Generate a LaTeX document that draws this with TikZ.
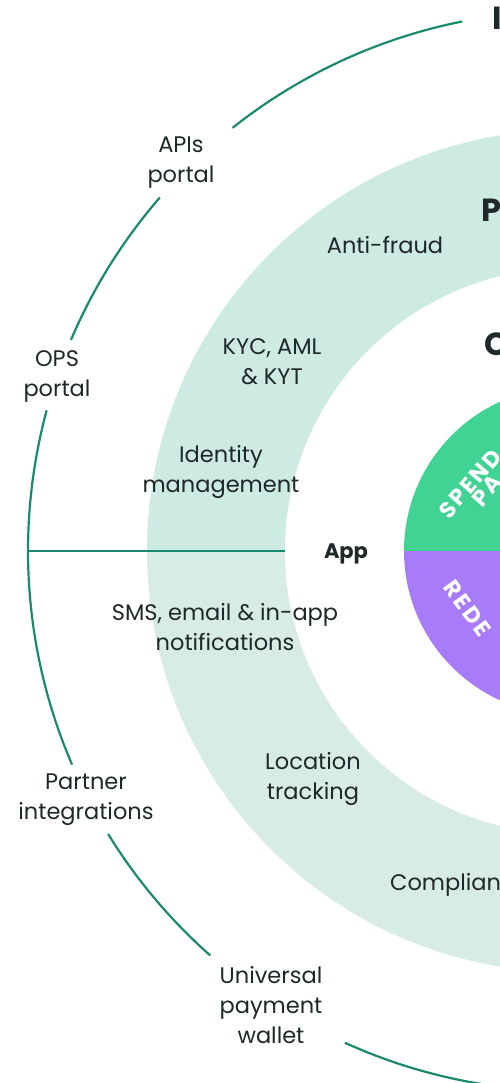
\documentclass[tikz,border=0pt]{standalone}
\usepackage{fontspec}
\setmainfont{Poppins}
\definecolor{ring}{RGB}{26,138,110}
\definecolor{bandtop}{RGB}{205,234,227}
\definecolor{bandbot}{RGB}{216,236,230}
\definecolor{spend}{RGB}{64,211,148}
\definecolor{redeem}{RGB}{168,123,248}
\definecolor{txt}{RGB}{30,40,40}
\begin{document}
\begin{tikzpicture}[x=1pt,y=1pt,
  ringline/.style={draw=ring, line width=2.2pt},
  lbl/.style={align=center, font=\fontsize{22.5}{30}\selectfont, text=txt, inner sep=0pt},
  boldlbl/.style={font=\fontsize{21}{30}\selectfont\bfseries, text=txt, inner sep=0pt},
  hdr/.style={font=\fontsize{32}{36}\selectfont\bfseries, text=txt, inner sep=0pt, anchor=base west},
  wedge/.style={font=\fontsize{22.5}{26}\selectfont\bfseries\addfontfeatures{LetterSpace=10}, text=white, inner sep=0pt, anchor=west}]
\useasboundingbox (0,0) rectangle (500,-1083);
\clip (0,0) rectangle (500,-1083);
\coordinate (C) at (568,-551);
% teal band
\fill[bandtop] (C) ++(0:421pt) arc[start angle=0, end angle=180, radius=421pt] -- cycle;
\fill[bandbot] (C) ++(180:421pt) arc[start angle=180, end angle=360, radius=421pt] -- cycle;
% white ring
\fill[white] (C) circle[radius=283pt];
% inner halves
\fill[spend] (C) ++(0:164pt) arc[start angle=0, end angle=180, radius=164pt] -- cycle;
\fill[redeem] (C) ++(180:164pt) arc[start angle=180, end angle=360, radius=164pt] -- cycle;
% outer ring arcs
\draw[ringline] (C) ++(101.3:540pt) arc[start angle=101.3, end angle=128.4, radius=540pt];
\draw[ringline] (C) ++(139.1:540pt) arc[start angle=139.1, end angle=157.0, radius=540pt];
\draw[ringline] (C) ++(164.9:540pt) arc[start angle=164.9, end angle=203.3, radius=540pt];
\draw[ringline] (C) ++(211.6:540pt) arc[start angle=211.6, end angle=228.5, radius=540pt];
\draw[ringline] (C) ++(245.6:540pt) arc[start angle=245.6, end angle=275, radius=540pt];
% horizontal spoke
\coordinate (hl) at (28,-551);
\coordinate (hr) at (285,-551);
\draw[ringline] (hl) -- (hr);
% outer labels
\node[lbl] (apis) at (181,-163) {APIs\\portal};
\node[lbl] (ops) at (57,-376) {OPS\\portal};
\node[lbl] (partner) at (86,-800) {Partner\\integrations};
\node[lbl] (upw) at (271,-1005) {Universal\\payment\\wallet};
% band labels
\node[lbl] (anti) at (385,-245) {Anti-fraud};
\node[lbl] (kyc) at (272,-362) {KYC, AML\\\& KYT};
\node[lbl] (idm) at (221,-472) {Identity\\management};
\node[lbl] (sms) at (225,-627) {SMS, email \& in-app\\notifications};
\node[lbl] (loc) at (313,-779) {Location\\tracking};
\node[lbl, anchor=west] (comp) at (390,-885) {Compliance};
% app label
\node[boldlbl] (app) at (346,-554) {App};
% headers (cut by the frame)
\node[hdr] (h1) at (492,-30) {I};
\node[hdr] (h2) at (481,-222) {P};
\node[hdr] (h3) at (484,-355) {C};
% wedge texts
\node[wedge, rotate=49] (sp1) at (443,-515) {SPEND};
\node[wedge, rotate=49] (sp2) at (476,-503) {PA};
\node[wedge, rotate=-54] (rd) at (449,-583) {REDE};
\end{tikzpicture}
\end{document}
